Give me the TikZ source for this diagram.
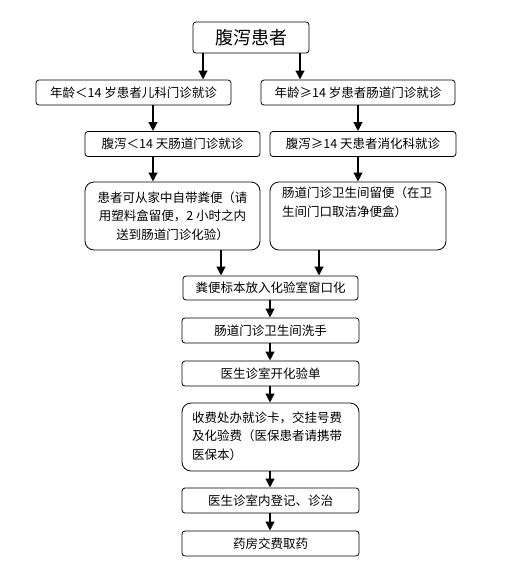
\documentclass[tikz,border=0pt]{standalone}
\usepackage{fontspec}
\setmainfont{Noto Sans CJK SC}
\usetikzlibrary{arrows.meta}
\begin{document}
\begin{tikzpicture}[x=1pt,y=-1pt,
  box/.style={draw=black,line width=0.8pt,rounded corners=3pt,inner sep=0pt,
    font=\fontsize{12.5}{18.5}\selectfont},
  bigbox/.style={box,rounded corners=9pt},
  arr/.style={line width=2.7pt,-{Triangle[width=8.5pt,length=9pt]}}]
\useasboundingbox (0,0) rectangle (517,571);
\node[box,minimum width=116pt,minimum height=31pt,font=\fontsize{18}{20}\selectfont] (top) at (251,37.5) {腹泻患者};
\node[box,minimum width=195pt,minimum height=25pt] (L1) at (133.5,92.5) {年龄＜14 岁患者儿科门诊就诊};
\node[box,minimum width=194pt,minimum height=25pt] (R1) at (358,92.5) {年龄≥14 岁患者肠道门诊就诊};
\node[box,minimum width=175pt,minimum height=25pt] (L2) at (172.5,144) {腹泻＜14 天肠道门诊就诊};
\node[box,minimum width=186pt,minimum height=25pt] (R2) at (363,144) {腹泻≥14 天患者消化科就诊};
\node[bigbox,minimum width=175pt,minimum height=68pt,align=center] (L3) at (172.5,216) {患者可从家中自带粪便（请\\用塑料盒留便，2 小时之内\\送到肠道门诊化验）};
\node[bigbox,minimum width=176pt,minimum height=68pt] (R3) at (358,216) {};
\node[anchor=north west,inner sep=0pt,align=left,font=\fontsize{12.5}{18.5}\selectfont] (R3t) at (282,187) {肠道门诊卫生间留便（在卫\\生间门口取洁净便盒）};
\node[box,minimum width=175pt,minimum height=24pt] (M1) at (270.5,288) {粪便标本放入化验室窗口化};
\node[box,minimum width=177pt,minimum height=25pt] (M2) at (270.5,330.5) {肠道门诊卫生间洗手};
\node[box,minimum width=177pt,minimum height=25pt] (M3) at (270.5,373.5) {医生诊室开化验单};
\node[bigbox,minimum width=177pt,minimum height=68pt] (M4) at (270.5,437) {};
\node[anchor=west,inner sep=0pt,align=left,font=\fontsize{12.5}{18.5}\selectfont] (M4t) at (192,436) {收费处办就诊卡，交挂号费\\及化验费（医保患者请携带\\医保本）};
\node[box,minimum width=177pt,minimum height=25pt] (M5) at (270.5,500.5) {医生诊室内登记、诊治};
\node[box,minimum width=177pt,minimum height=25pt] (M6) at (270.5,543.5) {药房交费取药};
\draw[arr] (203,0 |- top.south) -- (203,0 |- L1.north);
\draw[arr] (300,0 |- top.south) -- (300,0 |- R1.north);
\draw[arr] (153,0 |- L1.south) -- (153,0 |- L2.north);
\draw[arr] (358,0 |- R1.south) -- (358,0 |- R2.north);
\draw[arr] (153,0 |- L2.south) -- (153,0 |- L3.north);
\draw[arr] (358,0 |- R2.south) -- (358,0 |- R3.north);
\draw[arr] (221,0 |- L3.south) -- (221,0 |- M1.north);
\draw[arr] (319,0 |- R3.south) -- (319,0 |- M1.north);
\draw[arr] (270,0 |- M1.south) -- (270,0 |- M2.north);
\draw[arr] (270,0 |- M2.south) -- (270,0 |- M3.north);
\draw[arr] (270,0 |- M3.south) -- (270,0 |- M4.north);
\draw[arr] (270,0 |- M4.south) -- (270,0 |- M5.north);
\draw[arr] (270,0 |- M5.south) -- (270,0 |- M6.north);
\end{tikzpicture}
\end{document}
